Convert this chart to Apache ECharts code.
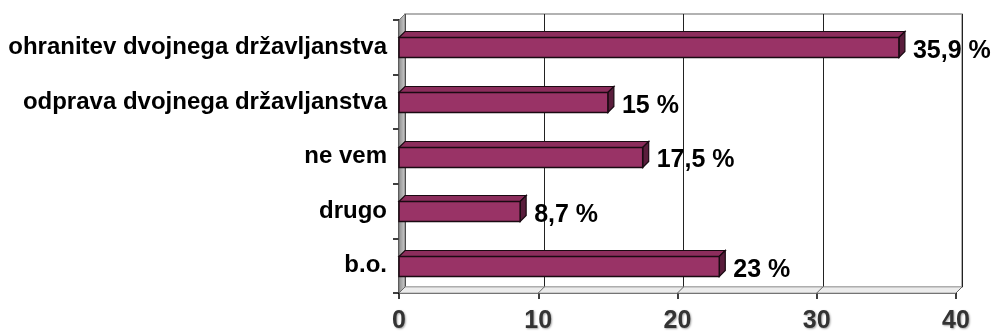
<!DOCTYPE html>
<html>
<head>
<meta charset="utf-8">
<script src="https://cdn.jsdelivr.net/npm/echarts@6/dist/echarts.min.js"></script>
<style>
  html, body { margin: 0; padding: 0; background: #fff; }
  #chart { width: 993px; height: 334px; }
</style>
</head>
<body>
<div id="chart"></div>
<script>
  // podatki
  var categories = ['ohranitev dvojnega državljanstva', 'odprava dvojnega državljanstva', 'ne vem', 'drugo', 'b.o.'];
  var values = [35.9, 15, 17.5, 8.7, 23];
  var xTicks = [0, 10, 20, 30, 40];

  var DEPTH = 6;
  var FONT = '"Liberation Sans", Arial, sans-serif';

  var chart = echarts.init(document.getElementById('chart'));

  function fmt(v) {
    return String(v).replace('.', ',') + ' %';
  }

  // stene (leva + tla)
  function renderWalls(params, api) {
    var cs = params.coordSys;
    var x = cs.x, y = cs.y, w = cs.width, h = cs.height, d = DEPTH;
    var children = [
      {
        type: 'polygon',
        shape: { points: [[x, y], [x + d, y - d], [x + d, y + h - d], [x, y + h]] },
        style: { fill: new echarts.graphic.LinearGradient(0, 0, 1, 0, [
          { offset: 0, color: '#8a8a8a' }, { offset: 1, color: '#d0d0d0' }
        ]), stroke: '#777', lineWidth: 1 }
      },
      {
        type: 'polygon',
        shape: { points: [[x, y + h], [x + d, y + h - d], [x + w + d, y + h - d], [x + w, y + h]] },
        style: { fill: '#ececec', stroke: '#aaa', lineWidth: 1 }
      }
    ];
    xTicks.forEach(function (t) {
      var px = api.coord([t, 0])[0];
      children.push({
        type: 'line',
        shape: { x1: px, y1: y + h, x2: px + d, y2: y + h - d },
        style: { stroke: '#666', lineWidth: 1 }
      });
    });
    return { type: 'group', children: children };
  }

  // 3D stolpci
  function renderBar(params, api) {
    var val = api.value(0), cat = api.value(1);
    var p0 = api.coord([0, cat]);
    var p1 = api.coord([val, cat]);
    var bh = 20, d = DEPTH;
    var x0 = p0[0], x1 = p1[0];
    var y0 = Math.round(p0[1] - bh / 2) + 0.5, y1 = y0 + bh;
    var stroke = '#1a0a12';
    return {
      type: 'group',
      children: [
        {
          type: 'polygon',
          shape: { points: [[x0, y0], [x0 + d, y0 - d], [x1 + d, y0 - d], [x1, y0]] },
          style: { fill: '#8c2d5c', stroke: stroke, lineWidth: 1.2 }
        },
        {
          type: 'polygon',
          shape: { points: [[x1, y0], [x1 + d, y0 - d], [x1 + d, y1 - d], [x1, y1]] },
          style: { fill: '#5a1d3c', stroke: stroke, lineWidth: 1.2 }
        },
        {
          type: 'rect',
          shape: { x: x0, y: y0, width: x1 - x0, height: bh },
          style: { fill: '#993366', stroke: stroke, lineWidth: 1.5 }
        },
        {
          type: 'text',
          style: {
            x: x1 + d + 8, y: p0[1] + 4,
            text: fmt(val),
            fill: '#000',
            font: 'bold 25px ' + FONT,
            verticalAlign: 'middle', align: 'left'
          }
        }
      ]
    };
  }

  var option = {
    animation: false,
    backgroundColor: '#fff',
    grid: [
      { left: 399, right: 37, top: 20, bottom: 41 },
      { left: 405, right: 31, top: 14, bottom: 47, show: true, borderColor: '#999', borderWidth: 1.5, backgroundColor: 'transparent' }
    ],
    xAxis: [
      {
        type: 'value', gridIndex: 0, min: 0, max: 40, interval: 10,
        axisLine: { show: true, lineStyle: { color: '#000', width: 1.5 } },
        axisTick: { show: true, length: 6, lineStyle: { color: '#000', width: 1.5 } },
        axisLabel: {
          margin: 16, color: '#333', fontSize: 25, fontWeight: 'bold', fontFamily: FONT,
          textShadowColor: 'rgba(0,0,0,0.35)', textShadowBlur: 2, textShadowOffsetX: 1, textShadowOffsetY: 1
        },
        splitLine: { show: false }
      },
      {
        type: 'value', gridIndex: 1, min: 0, max: 40, interval: 10,
        axisLine: { show: false }, axisTick: { show: false }, axisLabel: { show: false },
        splitLine: { show: true, lineStyle: { color: '#222', width: 1 } }
      }
    ],
    yAxis: [
      {
        type: 'category', gridIndex: 0, data: categories, inverse: true,
        axisLine: { show: true, lineStyle: { color: '#000', width: 1.5 } },
        axisTick: { show: true, length: 6, lineStyle: { color: '#000', width: 1.5 } },
        axisLabel: { margin: 12, color: '#000', fontSize: 24, fontWeight: 'bold', fontFamily: FONT }
      },
      {
        type: 'category', gridIndex: 1, data: categories, inverse: true,
        axisLine: { show: false }, axisTick: { show: false }, axisLabel: { show: false },
        splitLine: { show: false }
      }
    ],
    series: [
      {
        type: 'custom', xAxisIndex: 0, yAxisIndex: 0, z: 1, silent: true,
        renderItem: renderWalls,
        data: [[0, 0]]
      },
      {
        type: 'custom', xAxisIndex: 0, yAxisIndex: 0, z: 5,
        renderItem: renderBar,
        encode: { x: 0, y: 1 },
        data: values.map(function (v, i) { return [v, i]; })
      }
    ]
  };

  chart.setOption(option);
</script>
</body>
</html>
